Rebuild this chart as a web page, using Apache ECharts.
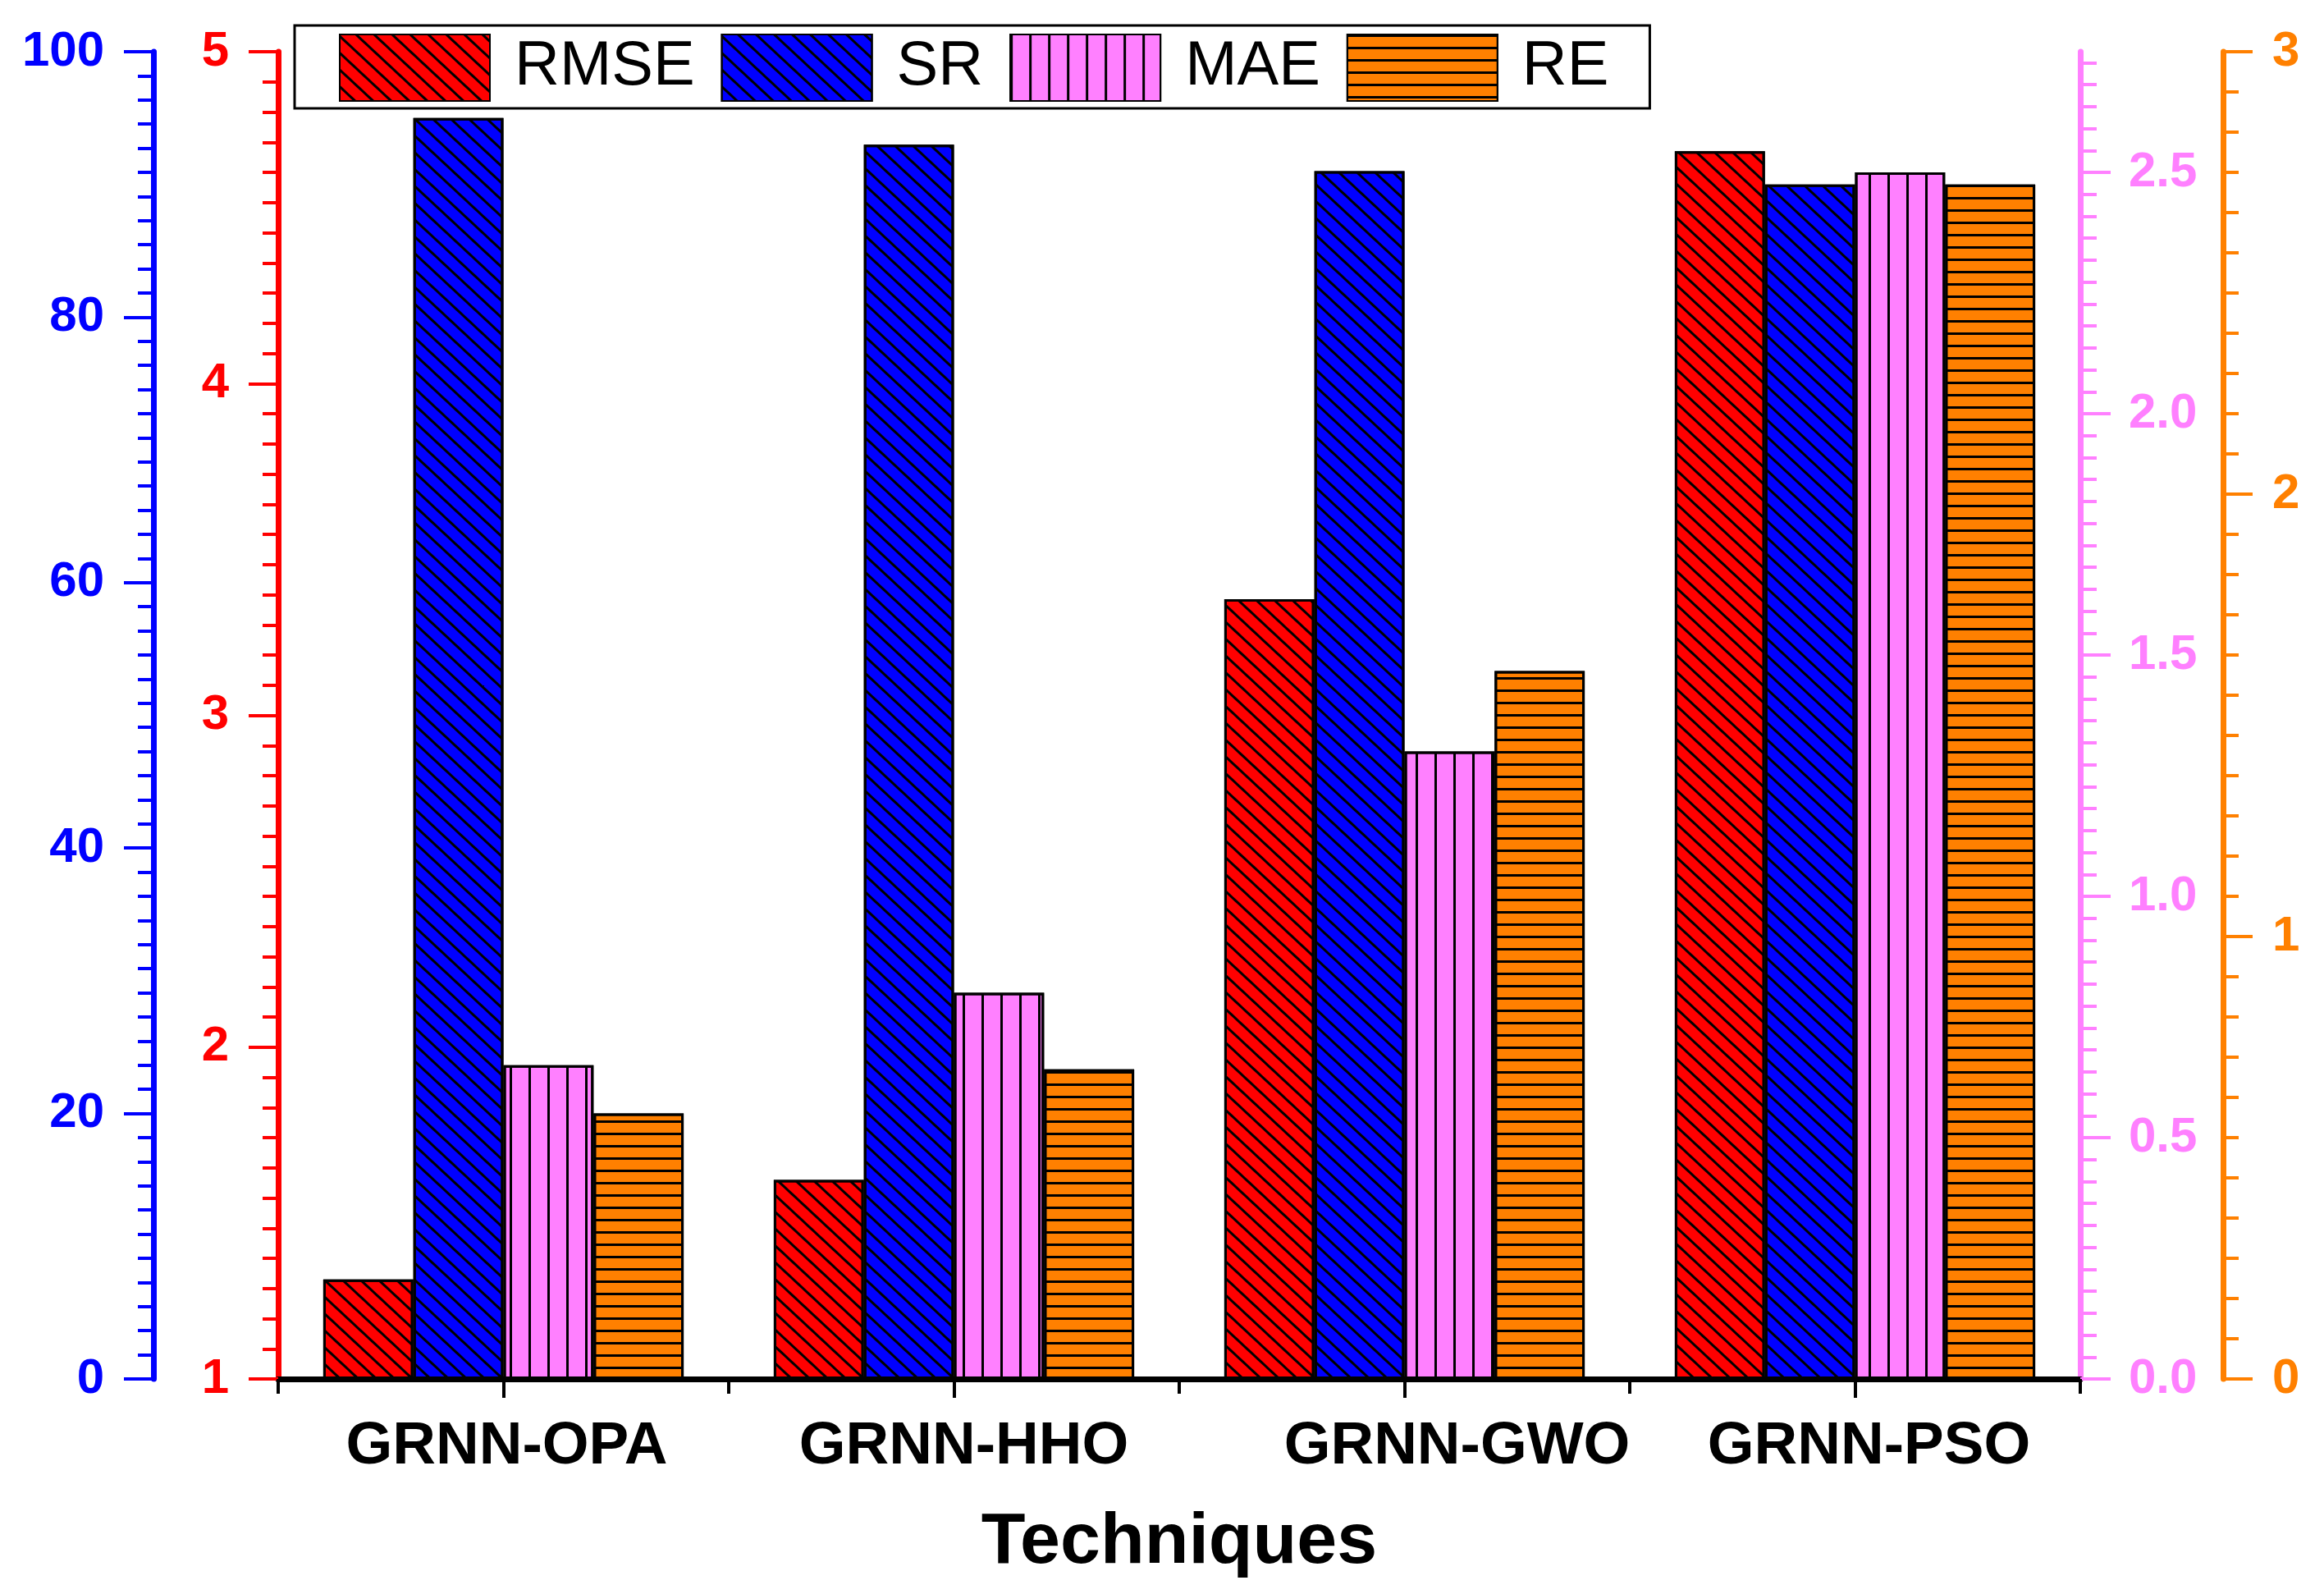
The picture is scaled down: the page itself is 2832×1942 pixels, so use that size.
<!DOCTYPE html>
<html>
<head>
<meta charset="utf-8">
<script src="https://cdn.jsdelivr.net/npm/echarts@6/dist/echarts.min.js"></script>
<style>
html,body{margin:0;padding:0;background:#fff;}
#chart{width:2832px;height:1942px;}
</style>
</head>
<body>
<div id="chart"></div>
<script>
// ---- data ----
const categories = ['GRNN-OPA', 'GRNN-HHO', 'GRNN-GWO', 'GRNN-PSO'];
const seriesNames = ['RMSE', 'SR', 'MAE', 'RE'];
const rmse = [1.30, 1.60, 3.35, 4.70];
const sr = [95.0, 93.0, 91.0, 90.0];
const mae = [0.65, 0.80, 1.30, 2.50];
const re = [0.60, 0.70, 1.60, 2.70];
const pinkTickValues = [0, 0.5, 1.0, 1.5, 2.0, 2.5];
const xTitle = 'Techniques';

// ---- styling ----
const BLUE = '#0000FF', RED = '#FF0000', PINK = '#FF80FF', ORANGE = '#FF8000';
const FONT = 'Liberation Sans';
const labelShift = [8, 24, 128, 34];

const pinkMinor = [];
for (let k = 0; k <= 60; k++) pinkMinor.push(k * 0.5 / 11);

function valueAxis(opts) {
  return Object.assign({
    type: 'value',
    splitLine: { show: false },
    axisLine: { show: true, onZero: false, lineStyle: { color: opts.color, width: 7 } },
    axisTick: { show: true, inside: false, length: 36, lineStyle: { color: opts.color, width: 4 } },
    minorTick: { show: true, splitNumber: 11, length: 19, lineStyle: { color: opts.color, width: 4 } },
    axisLabel: { color: opts.color, fontSize: 60, fontWeight: 'bold', fontFamily: FONT, margin: 60 },
    minorSplitLine: { show: false }
  }, opts.extra);
}

const diag = { symbol: 'rect', symbolSize: 1, color: '#000', dashArrayX: [1, 0], dashArrayY: [3, 12], rotation: 0.75 };
const vert = { symbol: 'rect', symbolSize: 1, color: '#000', dashArrayX: [3, 20], dashArrayY: [1, 0], rotation: 0 };
const horiz = { symbol: 'rect', symbolSize: 1, color: '#000', dashArrayX: [1, 0], dashArrayY: [3, 12], rotation: 0 };

const chart = echarts.init(document.getElementById('chart'), null, { renderer: 'canvas' });

const catRich = function (shift, bottomPad) {
  return { fontSize: 73, fontWeight: 'bold', fontFamily: FONT, color: '#000', padding: [0, 0, bottomPad, shift] };
};

const option = {
  backgroundColor: '#fff',
  animation: false,
  grid: { left: 339, right: 297, top: 63, bottom: 262, containLabel: false },
  legend: {
    left: 359, top: 31,
    itemWidth: 183, itemHeight: 81, itemGap: 32,
    padding: [10, 50, 8, 54],
    borderColor: '#000', borderWidth: 3,
    icon: 'rect',
    textStyle: { fontSize: 76, color: '#000', fontFamily: FONT, padding: [0, 0, 0, 25] },
    data: seriesNames
  },
  xAxis: [
    {
      type: 'category',
      data: categories,
      position: 'bottom',
      boundaryGap: true,
      axisLine: { show: true, onZero: false, lineStyle: { color: '#000', width: 7 } },
      axisTick: { show: true, alignWithLabel: false, length: 18, lineStyle: { color: '#000', width: 4 } },
      axisLabel: {
        margin: 46,
        formatter: function (v, i) { return '{c' + i + '|' + v + '}'; },
        rich: {
          c0: catRich(labelShift[0], 0),
          c1: catRich(labelShift[1], 0),
          c2: catRich(labelShift[2], 10),
          c3: catRich(labelShift[3], 0)
        }
      },
      splitLine: { show: false },
      name: xTitle,
      nameLocation: 'middle',
      nameGap: 156,
      nameTextStyle: { fontSize: 88, fontWeight: 'bold', fontFamily: FONT, color: '#000' }
    },
    {
      type: 'category',
      data: categories,
      position: 'bottom',
      axisLine: { show: false, onZero: false },
      axisTick: { show: true, alignWithLabel: true, length: 23, lineStyle: { color: '#000', width: 4 } },
      axisLabel: { show: false },
      splitLine: { show: false }
    }
  ],
  yAxis: [
    valueAxis({ color: BLUE, extra: { position: 'left', offset: 152, min: 0, max: 100, interval: 20 } }),
    valueAxis({ color: RED, extra: { position: 'left', offset: 0, min: 1, max: 5, interval: 1, startValue: 1 } }),
    {
      type: 'value', position: 'right', offset: 0, min: 0, max: 2.75, interval: 0.5,
      splitLine: { show: false },
      axisLine: { show: true, onZero: false, lineStyle: { color: PINK, width: 7 } },
      axisTick: { show: true, inside: false, length: 37, customValues: pinkTickValues, lineStyle: { color: PINK, width: 4 } },
      axisLabel: { color: PINK, fontSize: 60, fontWeight: 'bold', fontFamily: FONT, margin: 59,
        customValues: pinkTickValues, formatter: function (v) { return v.toFixed(1); } }
    },
    {
      type: 'value', position: 'right', offset: 0, min: 0, max: 2.75,
      splitLine: { show: false },
      axisLine: { show: false },
      axisTick: { show: true, inside: false, length: 20, customValues: pinkMinor, lineStyle: { color: PINK, width: 4 } },
      axisLabel: { show: false, customValues: [] }
    },
    valueAxis({ color: ORANGE, extra: { position: 'right', offset: 174, min: 0, max: 3, interval: 1 } })
  ],
  series: [
    { name: seriesNames[0], type: 'bar', yAxisIndex: 1, data: rmse, clip: true, barGap: '0%', barCategoryGap: '20%',
      itemStyle: { color: RED, borderColor: '#000', borderWidth: 3, decal: diag } },
    { name: seriesNames[1], type: 'bar', yAxisIndex: 0, data: sr, clip: true, barGap: '0%', barCategoryGap: '20%',
      itemStyle: { color: BLUE, borderColor: '#000', borderWidth: 3, decal: diag } },
    { name: seriesNames[2], type: 'bar', yAxisIndex: 2, data: mae, clip: true, barGap: '0%', barCategoryGap: '20%',
      itemStyle: { color: PINK, borderColor: '#000', borderWidth: 3, decal: vert } },
    { name: seriesNames[3], type: 'bar', yAxisIndex: 4, data: re, clip: true, barGap: '0%', barCategoryGap: '20%',
      itemStyle: { color: ORANGE, borderColor: '#000', borderWidth: 3, decal: horiz } }
  ]
};
chart.setOption(option);
</script>
</body>
</html>
